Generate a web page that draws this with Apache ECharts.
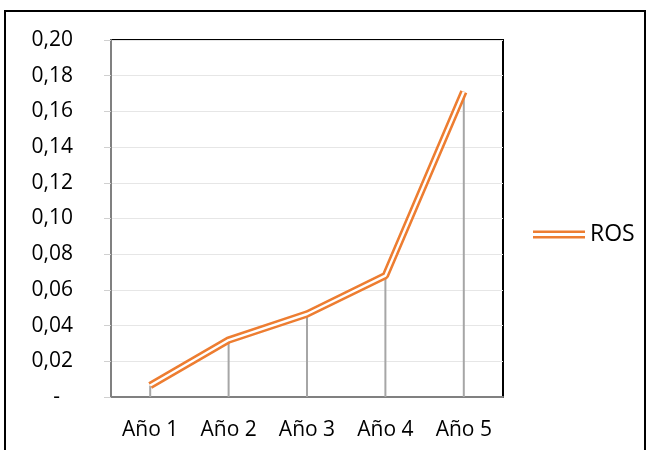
<!DOCTYPE html>
<html>
<head>
<meta charset="utf-8">
<script src="https://cdn.jsdelivr.net/npm/echarts@6/dist/echarts.min.js"></script>
<style>html,body{margin:0;padding:0;background:#fff}#c{width:650px;height:450px}</style>
</head>
<body>
<div id="c"></div>
<script>
var categories = ['Año 1', 'Año 2', 'Año 3', 'Año 4', 'Año 5'];
var rosValues = [0.0064, 0.0319, 0.0465, 0.068, 0.171];
var seriesName = 'ROS';
var yMin = 0, yMax = 0.2, yStep = 0.02;

var chart = echarts.init(document.getElementById('c'));
var FONT = 'Open Sans';
chart.setOption({
  animation: false,
  textStyle: {fontFamily: FONT},
  graphic: [{
    type: 'rect', shape: {x: 5, y: 11, width: 640, height: 450},
    style: {fill: 'none', stroke: '#000', lineWidth: 2}, z: -1
  }],
  grid: {left: 111, top: 40, right: 147, bottom: 53, show: true, borderColor: '#000', borderWidth: 2, backgroundColor: 'transparent'},
  legend: {
    data: [seriesName], left: 528, top: 218, itemWidth: 52, itemHeight: 8,
    icon: 'path://M0,0H52V2.6H0Z M0,5.4H52V8H0Z',
    itemStyle: {color: '#ED7D31'},
    textStyle: {fontSize: 23, color: '#000', fontFamily: FONT}, itemGap: 6
  },
  xAxis: {
    type: 'category', data: categories, boundaryGap: true,
    axisLine: {lineStyle: {color: '#808080', width: 2}},
    axisTick: {show: false},
    axisLabel: {fontSize: 21, color: '#000', margin: 23, fontFamily: FONT}
  },
  yAxis: {
    type: 'value', min: yMin, max: yMax, interval: yStep,
    axisLine: {show: true, lineStyle: {color: '#808080', width: 2}},
    axisTick: {show: true, length: 7, lineStyle: {color: '#d0d0d0'}},
    splitLine: {lineStyle: {color: '#e6e6e6', width: 1}},
    axisLabel: {
      fontSize: 21, color: '#000', margin: 38, fontFamily: FONT,
      formatter: function (v) { return Math.abs(v) < 1e-9 ? '{d|-}' : v.toFixed(2).replace('.', ','); },
      rich: {d: {fontSize: 21, color: '#000', padding: [0, 13, 0, 0], fontFamily: FONT}}
    }
  },
  series: [
    {type: 'bar', name: 'drop', data: rosValues, barWidth: 2, itemStyle: {color: '#a6a6a6'}, silent: true, z: 1},
    {type: 'line', name: seriesName, data: rosValues, symbol: 'none', lineStyle: {color: '#ED7D31', width: 7.5}, itemStyle: {color: '#ED7D31'}, z: 3},
    {type: 'line', name: 'inner', data: rosValues, symbol: 'none', lineStyle: {color: '#fff', width: 2.4}, silent: true, z: 4}
  ]
});
</script>
</body>
</html>
